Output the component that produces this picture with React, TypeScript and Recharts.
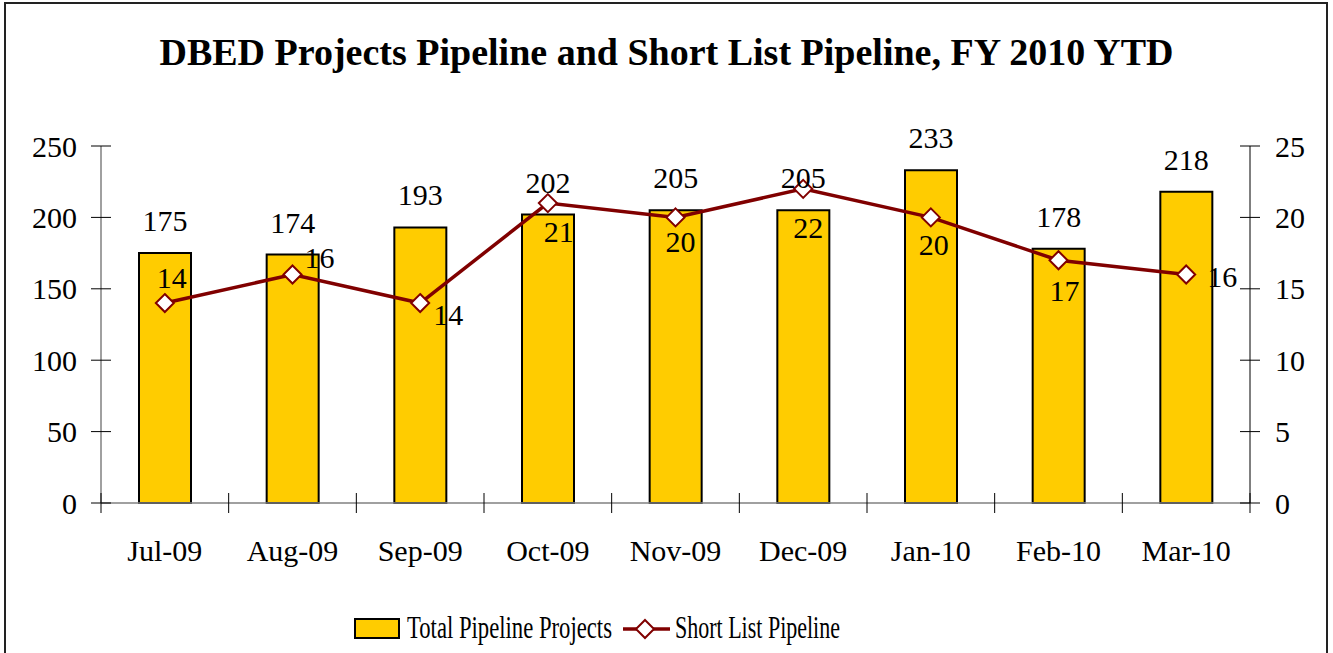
import React from 'react'
import {
  ComposedChart, Bar, Line, XAxis, YAxis, LabelList, Legend
} from 'recharts'

// values
const months = ['Jul-09', 'Aug-09', 'Sep-09', 'Oct-09', 'Nov-09', 'Dec-09', 'Jan-10', 'Feb-10', 'Mar-10']
const totalPipeline = [175, 174, 193, 202, 205, 205, 233, 178, 218]
const shortList = [14, 16, 14, 21, 20, 22, 20, 17, 16]
const leftTicks = [0, 50, 100, 150, 200, 250]
const rightTicks = [0, 5, 10, 15, 20, 25]

// where each short-list label sits relative to its point (text centre dx, baseline dy)
const lineLabelOffsets = [[7, -15], [27, -7], [28, 22], [11, 39], [5, 35], [5, 49], [3, 38], [6, 41], [36, 12]]

const data = months.map((m, i) => ({ month: m, total: totalPipeline[i], short: shortList[i] }))

const FONT = '"Liberation Serif", "Times New Roman", serif'
const GOLD = '#FFCC00'
const MAROON = '#800000'
const W = 1333
const H = 653
const LEFT_W = 101
const RIGHT_W = 83
const BAND = (W - LEFT_W - RIGHT_W) / months.length

const LeftTick = (props: any) => {
  const { x, y, payload } = props
  return (
    <g>
      <line x1={x - 10} x2={x + 10} y1={y} y2={y} stroke="#000" strokeWidth={1} />
      <text x={x - 24} y={y + 10.5} textAnchor="end" fontSize={30} fontFamily={FONT} fill="#000">{payload.value}</text>
    </g>
  )
}

const RightTick = (props: any) => {
  const { x, y, payload } = props
  return (
    <g>
      <line x1={x - 10} x2={x + 10} y1={y} y2={y} stroke="#000" strokeWidth={1} />
      <text x={x + 25} y={y + 10.5} textAnchor="start" fontSize={30} fontFamily={FONT} fill="#000">{payload.value}</text>
    </g>
  )
}

const MonthTick = (props: any) => {
  const { x, y, payload, index } = props
  const left = x - BAND / 2
  return (
    <g>
      <line x1={left} x2={left} y1={y - 10} y2={y + 10} stroke="#000" strokeWidth={1} />
      {index === months.length - 1 && (
        <line x1={x + BAND / 2} x2={x + BAND / 2} y1={y - 10} y2={y + 10} stroke="#000" strokeWidth={1} />
      )}
      <text x={x} y={y + 58} textAnchor="middle" fontSize={30} fontFamily={FONT} fill="#000">{payload.value}</text>
    </g>
  )
}

const Diamond = (props: any) => {
  const { cx, cy, index } = props
  const r = 9
  return (
    <path
      key={'d' + index}
      d={`M${cx},${cy - r} L${cx + r},${cy} L${cx},${cy + r} L${cx - r},${cy} Z`}
      fill="#fff"
      stroke={MAROON}
      strokeWidth={2}
    />
  )
}

const ShortLabel = (props: any) => {
  const { x, y, value, index } = props
  const [dx, dy] = lineLabelOffsets[index] || [0, 0]
  return (
    <text x={x + dx} y={y + dy} textAnchor="middle" fontSize={30} fontFamily={FONT} fill="#000">{value}</text>
  )
}

// legend text in the original is squeezed sideways, hence textLength
const LegendBox = () => (
  <svg width={W} height={50} style={{ display: 'block' }}>
    <rect x={355} y={16} width={44} height={19} fill={GOLD} stroke="#000" strokeWidth={2} />
    <text x={407} y={35} fontSize={31} fontFamily={FONT} textLength={205} lengthAdjust="spacingAndGlyphs">Total Pipeline Projects</text>
    <line x1={623} x2={670} y1={26} y2={26} stroke={MAROON} strokeWidth={3.5} />
    <path d="M645,17 L654,26 L645,35 L636,26 Z" fill="#fff" stroke={MAROON} strokeWidth={2} />
    <text x={675} y={35} fontSize={31} fontFamily={FONT} textLength={165} lengthAdjust="spacingAndGlyphs">Short List Pipeline</text>
  </svg>
)

export default function App() {
  return (
    <div style={{ position: 'absolute', left: 0, top: 0, width: W, height: H, overflow: 'hidden', background: '#fff' }}>
      <div style={{ position: 'absolute', left: 4, top: 2, width: 1324, height: 720, border: '2px solid #222', boxSizing: 'border-box' }} />
      <div style={{
        position: 'absolute', left: 0, top: 33, width: W, textAlign: 'center',
        fontFamily: FONT, fontWeight: 'bold', fontSize: 38, lineHeight: '38px', color: '#000'
      }}>
        DBED Projects Pipeline and Short List Pipeline, FY 2010 YTD
      </div>
      <div style={{ position: 'absolute', left: 0, top: 0 }}>
        <ComposedChart width={W} height={H} data={data} margin={{ top: 146, right: 0, bottom: 0, left: 0 }}>
          <XAxis
            dataKey="month"
            interval={0}
            height={100}
            tickSize={0}
            tickMargin={0}
            tickLine={false}
            axisLine={{ stroke: '#808080', strokeWidth: 1.5 }}
            tick={<MonthTick />}
          />
          <YAxis
            yAxisId="left"
            width={LEFT_W}
            domain={[0, 250]}
            ticks={leftTicks}
            tickSize={0}
            tickMargin={0}
            tickLine={false}
            axisLine={{ stroke: '#808080', strokeWidth: 1.5 }}
            tick={<LeftTick />}
          />
          <YAxis
            yAxisId="right"
            orientation="right"
            width={RIGHT_W}
            domain={[0, 25]}
            ticks={rightTicks}
            tickSize={0}
            tickMargin={0}
            tickLine={false}
            axisLine={{ stroke: '#000', strokeWidth: 1 }}
            tick={<RightTick />}
          />
          <Legend verticalAlign="bottom" content={<LegendBox />} wrapperStyle={{ left: 0, width: W, height: 50 }} />
          <Bar yAxisId="left" dataKey="total" name="Total Pipeline Projects" fill={GOLD} stroke="#000" strokeWidth={2} barSize={52} isAnimationActive={false}>
            <LabelList dataKey="total" position="top" offset={22} fill="#000" fontSize={30} fontFamily={FONT} />
          </Bar>
          <Line
            yAxisId="right"
            type="linear"
            dataKey="short"
            name="Short List Pipeline"
            stroke={MAROON}
            strokeWidth={3.5}
            dot={Diamond}
            activeDot={false}
            isAnimationActive={false}
          >
            <LabelList dataKey="short" content={<ShortLabel />} />
          </Line>
        </ComposedChart>
      </div>
    </div>
  )
}
